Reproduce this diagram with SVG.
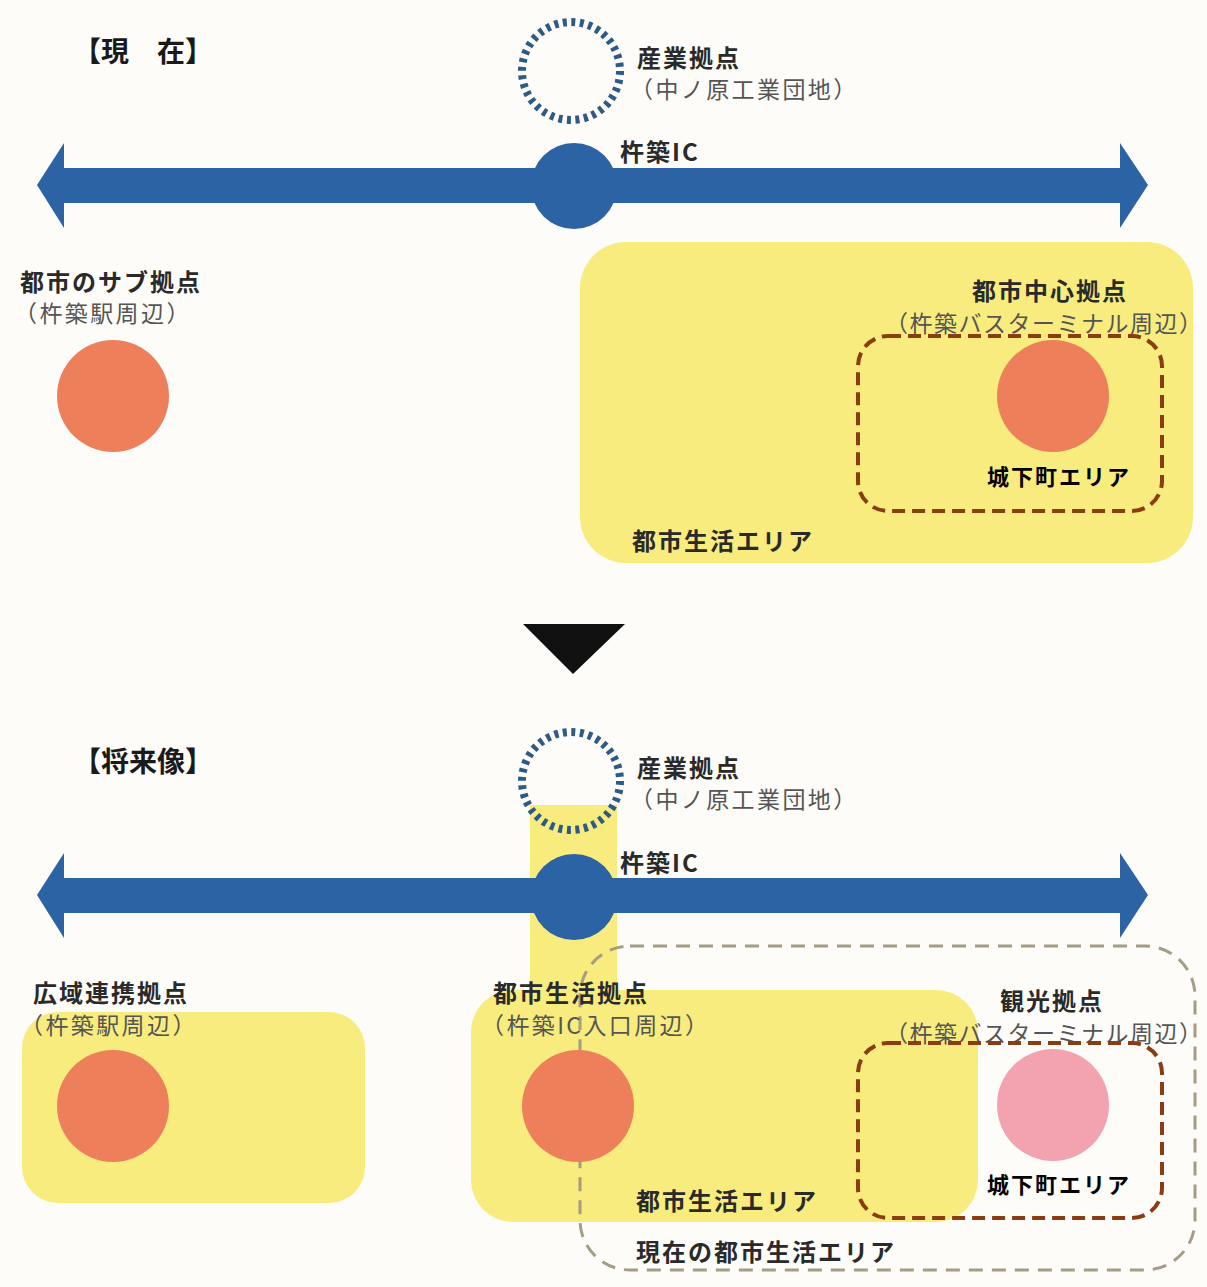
<svg xmlns="http://www.w3.org/2000/svg" width="1207" height="1287" viewBox="0 0 1207 1287">
<defs>
<style>
text{font-family:"Noto Sans CJK JP","Noto Sans",sans-serif;}
.h{font-size:28px;font-weight:bold;fill:#1a1a1a;}
.b{font-size:24px;font-weight:bold;fill:#2a2a2a;letter-spacing:2px;}
.g{font-size:23px;fill:#555;letter-spacing:2.4px;}
.g2{letter-spacing:1.5px;}
.k{font-size:22px;font-weight:bold;fill:#000;letter-spacing:2px;}
.yel{fill:#f7ec7d;}
.org{fill:#ee7f5b;}
.pnk{fill:#f3a2b0;}
.road{fill:#2b63a4;}
.ring{fill:none;stroke:#2e5b86;stroke-width:8;stroke-dasharray:4 4.55;}
.brown{fill:none;stroke:#8a3c12;stroke-width:4;stroke-dasharray:13 7;}
.old{fill:none;stroke:#a59c84;stroke-width:3;stroke-dasharray:14 9;}
</style>
</defs>
<rect width="1207" height="1287" fill="#fdfcf8"/>

<!-- ===== Current ===== -->
<g id="title-current"><text class="h" x="73" y="62">【現　在】</text></g>

<g id="areas-current">
<rect id="city-life-area" class="yel" x="580" y="242" width="613" height="321" rx="46"/>
<text class="b" x="632" y="550">都市生活エリア</text>
</g>

<g id="connectors">
<g id="road-current">
<rect class="road" x="60" y="168" width="1062" height="35"/>
<polygon class="road" points="37,185 64,143 64,228"/>
<polygon class="road" points="1148,185 1120,143 1120,228"/>
</g>
<polygon id="transition-arrow" fill="#111" points="523,624 625,624 573,674"/>
</g>

<g id="industrial-current">
<circle class="ring" cx="571" cy="71" r="49"/>
<text class="b" x="637" y="67">産業拠点</text>
<text class="g" x="630" y="98">（中ノ原工業団地）</text>
</g>

<g id="ic-current">
<circle class="road" cx="574" cy="186" r="43"/>
<text class="b" x="620" y="161">杵築IC</text>
</g>

<g id="sub-hub">
<text class="b" x="20" y="291">都市のサブ拠点</text>
<text class="g" x="14" y="322">（杵築駅周辺）</text>
<circle class="org" cx="113" cy="396" r="56"/>
</g>

<g id="center-hub">
<text class="b" x="972" y="300">都市中心拠点</text>
<text class="g g2" x="885" y="332">（杵築バスターミナル周辺）</text>
<circle class="org" cx="1053" cy="396" r="56"/>
</g>

<g id="castle-town-current">
<rect class="brown" x="858" y="336" width="304" height="175" rx="30"/>
<text class="k" x="987" y="485">城下町エリア</text>
</g>

<!-- ===== Future ===== -->
<g id="title-future"><text class="h" x="73" y="772">【将来像】</text></g>

<g id="areas-future">
<rect class="yel" x="530" y="805" width="87" height="200"/>
<rect class="yel" x="22" y="1012" width="343" height="191" rx="36"/>
<rect class="yel" x="471" y="990" width="507" height="232" rx="42"/>
<text class="b" x="636" y="1210">都市生活エリア</text>
</g>

<g id="current-city-life-area">
<rect class="old" x="580" y="946" width="615" height="324" rx="50"/>
<text class="b" x="636" y="1261">現在の都市生活エリア</text>
</g>

<g id="road-future">
<rect class="road" x="60" y="878" width="1062" height="35"/>
<polygon class="road" points="37,895 64,853 64,938"/>
<polygon class="road" points="1148,895 1120,853 1120,938"/>
</g>

<g id="industrial-future">
<circle class="ring" cx="571" cy="781" r="49"/>
<text class="b" x="637" y="777">産業拠点</text>
<text class="g" x="630" y="808">（中ノ原工業団地）</text>
</g>

<g id="ic-future">
<circle class="road" cx="574" cy="897" r="43"/>
<text class="b" x="620" y="872">杵築IC</text>
</g>

<g id="wide-area-hub">
<text class="b" x="33" y="1002">広域連携拠点</text>
<text class="g" x="20" y="1034">（杵築駅周辺）</text>
<circle class="org" cx="113" cy="1106" r="56"/>
</g>

<g id="life-hub">
<text class="b" x="493" y="1002">都市生活拠点</text>
<text class="g" x="481" y="1034">（杵築IC入口周辺）</text>
<circle class="org" cx="578" cy="1106" r="56"/>
</g>

<g id="tourism-hub">
<text class="b" x="1000" y="1010">観光拠点</text>
<text class="g g2" x="885" y="1042">（杵築バスターミナル周辺）</text>
<circle class="pnk" cx="1053" cy="1105" r="56"/>
</g>

<g id="castle-town-future">
<rect class="brown" x="858" y="1043" width="304" height="175" rx="30"/>
<text class="k" x="987" y="1193">城下町エリア</text>
</g>
</svg>
